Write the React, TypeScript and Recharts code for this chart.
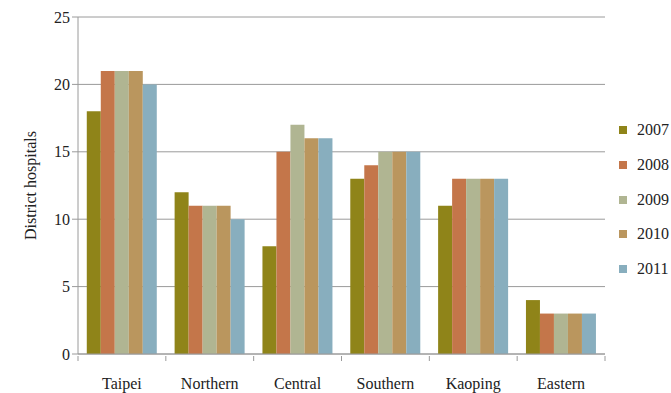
import { BarChart, Bar, XAxis, YAxis, CartesianGrid } from 'recharts'

const regions = ['Taipei', 'Northern', 'Central', 'Southern', 'Kaoping', 'Eastern']
const years = ['2007', '2008', '2009', '2010', '2011']
const y2007 = [18, 12, 8, 13, 11, 4]
const y2008 = [21, 11, 15, 14, 13, 3]
const y2009 = [21, 11, 17, 15, 13, 3]
const y2010 = [21, 11, 16, 15, 13, 3]
const y2011 = [20, 10, 16, 15, 13, 3]
const yTicks = [0, 5, 10, 15, 20, 25]

const colors = ['#8f8419', '#c4764a', '#b0b592', '#ba965e', '#88aebe']
const series = [y2007, y2008, y2009, y2010, y2011]

const data = regions.map((name, i) => {
  const row: Record<string, string | number> = { name }
  years.forEach((y, k) => {
    row[y] = series[k][i]
  })
  return row
})

const font = 'Liberation Serif, Times New Roman, serif'
const axisColor = '#9a9a9a'

function CategoryTick(props: any) {
  const { x, y, payload, index, visibleTicksCount } = props
  const half = payload.offset ?? 0
  const last = index === visibleTicksCount - 1
  return (
    <g>
      <line x1={x - half} x2={x - half} y1={y} y2={y + 5} stroke={axisColor} />
      {last && <line x1={x + half} x2={x + half} y1={y} y2={y + 5} stroke={axisColor} />}
      <text x={x} y={y + 33} textAnchor="middle" style={{ fill: '#222', fontSize: 16, fontFamily: font }}>
        {payload.value}
      </text>
    </g>
  )
}

export default function App() {
  return (
    <div style={{ position: 'absolute', left: 0, top: 0, width: 671, height: 393, background: '#fff' }}>
      <BarChart
        width={671}
        height={393}
        data={data}
        margin={{ top: 17, right: 66, bottom: 0, left: 0 }}
        barCategoryGap="10%"
        barGap={0}
      >
        <CartesianGrid vertical={false} stroke={axisColor} />
        <XAxis
          dataKey="name"
          height={39}
          axisLine={{ stroke: axisColor }}
          tickLine={false}
          tickSize={0}
          tick={<CategoryTick />}
          interval={0}
        />
        <YAxis
          width={78}
          domain={[0, 25]}
          ticks={yTicks}
          axisLine={{ stroke: axisColor }}
          tickLine={{ stroke: axisColor }}
          tickSize={6}
          tickMargin={2}
          tick={{ fill: '#222', fontSize: 16, style: { fontFamily: font } }}
          label={{
            value: 'District hospitals',
            angle: -90,
            position: 'center',
            dx: -9,
            style: { fill: '#222', fontSize: 16, fontFamily: font, textAnchor: 'middle' },
          }}
        />
        {years.map((y, k) => (
          <Bar key={y} dataKey={y} fill={colors[k]} isAnimationActive={false} />
        ))}
      </BarChart>
      <div style={{ position: 'absolute', left: 619, top: 113, fontFamily: font, fontSize: 16, color: '#222' }}>
        {years.map((y, k) => (
          <div key={y} style={{ display: 'flex', alignItems: 'center', height: 34.7 }}>
            <span style={{ width: 8, height: 8, background: colors[k], marginRight: 10, display: 'inline-block' }} />
            {y}
          </div>
        ))}
      </div>
    </div>
  )
}
